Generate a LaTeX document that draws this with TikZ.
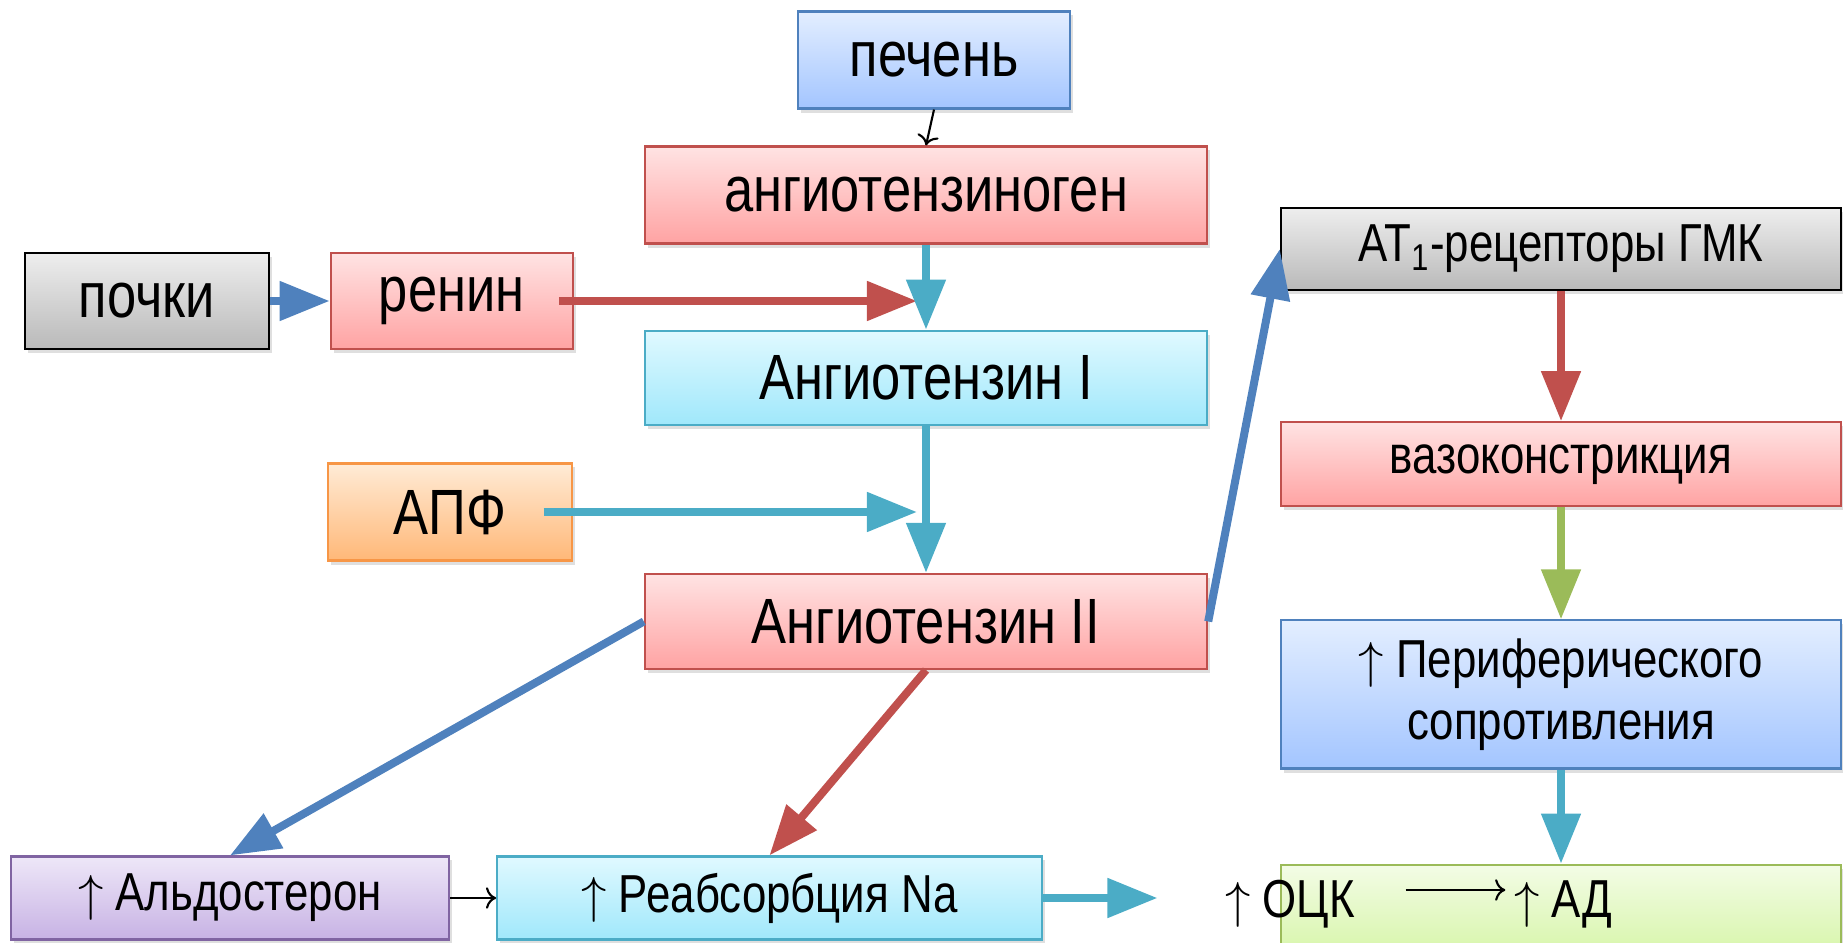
\documentclass[tikz,border=0pt]{standalone}
\usepackage{fontspec}
\setmainfont{Liberation Sans}[FakeStretch=0.82]
\usepackage{tikz}
\usetikzlibrary{positioning,arrows.meta,shadows}

\definecolor{redline}{HTML}{C0504D}
\definecolor{redtop}{HTML}{FFE3E3}
\definecolor{redbot}{HTML}{FFA3A3}
\definecolor{blueline}{HTML}{4F81BD}
\definecolor{bluetop}{HTML}{E3EEFF}
\definecolor{bluebot}{HTML}{A3C5FF}
\definecolor{tealline}{HTML}{4BACC6}
\definecolor{cyantop}{HTML}{E0F9FF}
\definecolor{cyanbot}{HTML}{A0E8FB}
\definecolor{graytop}{HTML}{EEEEEE}
\definecolor{graybot}{HTML}{B9B9B9}
\definecolor{orangeline}{HTML}{F79646}
\definecolor{orangetop}{HTML}{FFEBD6}
\definecolor{orangebot}{HTML}{FFB878}
\definecolor{purpline}{HTML}{8064A2}
\definecolor{purptop}{HTML}{EEE7F8}
\definecolor{purpbot}{HTML}{C7B2E4}
\definecolor{greenline}{HTML}{9BBB59}
\definecolor{greentop}{HTML}{F3FCE6}
\definecolor{greenbot}{HTML}{D9F6AE}

\begin{document}
\begin{tikzpicture}[x=0.01cm, y=-0.01cm,
  box/.style={draw, line width=0.6pt, inner sep=0pt, align=center,
    drop shadow={shadow xshift=0.03cm, shadow yshift=-0.04cm, opacity=0.25}},
  lg/.style={font=\fontsize{18.2}{22}\selectfont},
  md/.style={font=\fontsize{15.2}{17.6}\selectfont},
  redbox/.style={box, draw=redline, top color=redtop, bottom color=redbot},
  bluebox/.style={box, draw=blueline, top color=bluetop, bottom color=bluebot},
  cyanbox/.style={box, draw=tealline, top color=cyantop, bottom color=cyanbot},
  graybox/.style={box, draw=black, top color=graytop, bottom color=graybot},
  orangebox/.style={box, draw=orangeline, top color=orangetop, bottom color=orangebot},
  purpbox/.style={box, draw=purpline, top color=purptop, bottom color=purpbot},
  greenbox/.style={box, draw=greenline, top color=greentop, bottom color=greenbot},
  fat/.style={line width=0.08cm, -{Triangle[length=0.5cm, width=0.38cm]}},
  slim/.style={->, line width=0.6pt}]
\useasboundingbox (0,0) rectangle (1843,943);

% left and middle column
\node[bluebox, lg, minimum width=2.71cm, minimum height=0.97cm] (liver) at (934,60) {печень};
\node[redbox, lg, minimum width=5.62cm, minimum height=0.97cm] (agen) at (926,195) {ангиотензиноген};
\node[graybox, lg, minimum width=2.43cm, minimum height=0.96cm] (kidney) at (147,301) {почки};
\node[redbox, lg, minimum width=2.42cm, minimum height=0.96cm, right=0.6cm of kidney] (renin) {ренин};
\node[cyanbox, lg, minimum width=5.62cm, minimum height=0.94cm, below=0.85cm of agen] (ang1) {Ангиотензин I};
\node[orangebox, lg, minimum width=2.43cm, minimum height=0.97cm] (ace) at (450,512) {АПФ};
\node[redbox, lg, minimum width=5.62cm, minimum height=0.95cm, below=1.47cm of ang1] (ang2) {Ангиотензин II};
\node[purpbox, md, minimum width=4.38cm, minimum height=0.83cm] (aldo) at (230,898) {$\uparrow$ Альдостерон};
\node[cyanbox, md, minimum width=5.44cm, minimum height=0.83cm, right=0.46cm of aldo] (reab) {$\uparrow$ Реабсорбция Na};

% right column
\node[graybox, md, minimum width=5.6cm, minimum height=0.82cm] (at1) at (1561,249) {АТ\textsubscript{1}-рецепторы ГМК};
\node[redbox, md, minimum width=5.6cm, minimum height=0.84cm, below=1.3cm of at1] (vaso) {вазоконстрикция};
\node[bluebox, md, minimum width=5.6cm, minimum height=1.48cm, below=1.12cm of vaso] (periph) {$\uparrow$ Периферического\\сопротивления};
\node[greenbox, minimum width=5.6cm, minimum height=0.84cm, below=0.94cm of periph] (adbox) {};
\node[md, inner sep=0pt, anchor=base] (ad) at (1563,917) {$\uparrow$ АД};
\node[md, inner sep=0pt, anchor=base] (ock) at (1290,917) {$\uparrow$ ОЦК};

\path (renin.east -| agen.south) ++(-9,0) coordinate (jr);
\path (ace.east -| agen.south) ++(-9,0) coordinate (ja);

\draw[slim] (liver.south) -- (agen.north);
\draw[fat, blueline] (kidney) -- (renin);
\draw[fat, redline, shorten <=-0.15cm] (renin.east) -- (jr);
\draw[fat, tealline] (agen) -- (ang1);
\draw[fat, tealline, shorten <=-0.29cm] (ace.east) -- (ja);
\draw[fat, tealline] (ang1) -- (ang2);
\draw[fat, blueline] (ang2.west) -- (aldo.north);
\draw[fat, redline] (ang2.south) -- (reab.north);
\draw[fat, blueline] (ang2.east) -- (at1.west);
\draw[slim] (aldo) -- (reab);
\draw[fat, tealline, shorten >=0.67cm] (reab.east) -- (reab.east -| ock.west);
\draw[fat, redline] (at1) -- (vaso);
\draw[fat, greenline] (vaso) -- (periph);
\draw[fat, tealline] (periph) -- (adbox);
\draw[slim, shorten <=0.5cm, shorten >=0.08cm] ([yshift=0.27cm]ock.base east) -- ([yshift=0.27cm]ock.base east -| ad.west);
\end{tikzpicture}
\end{document}
